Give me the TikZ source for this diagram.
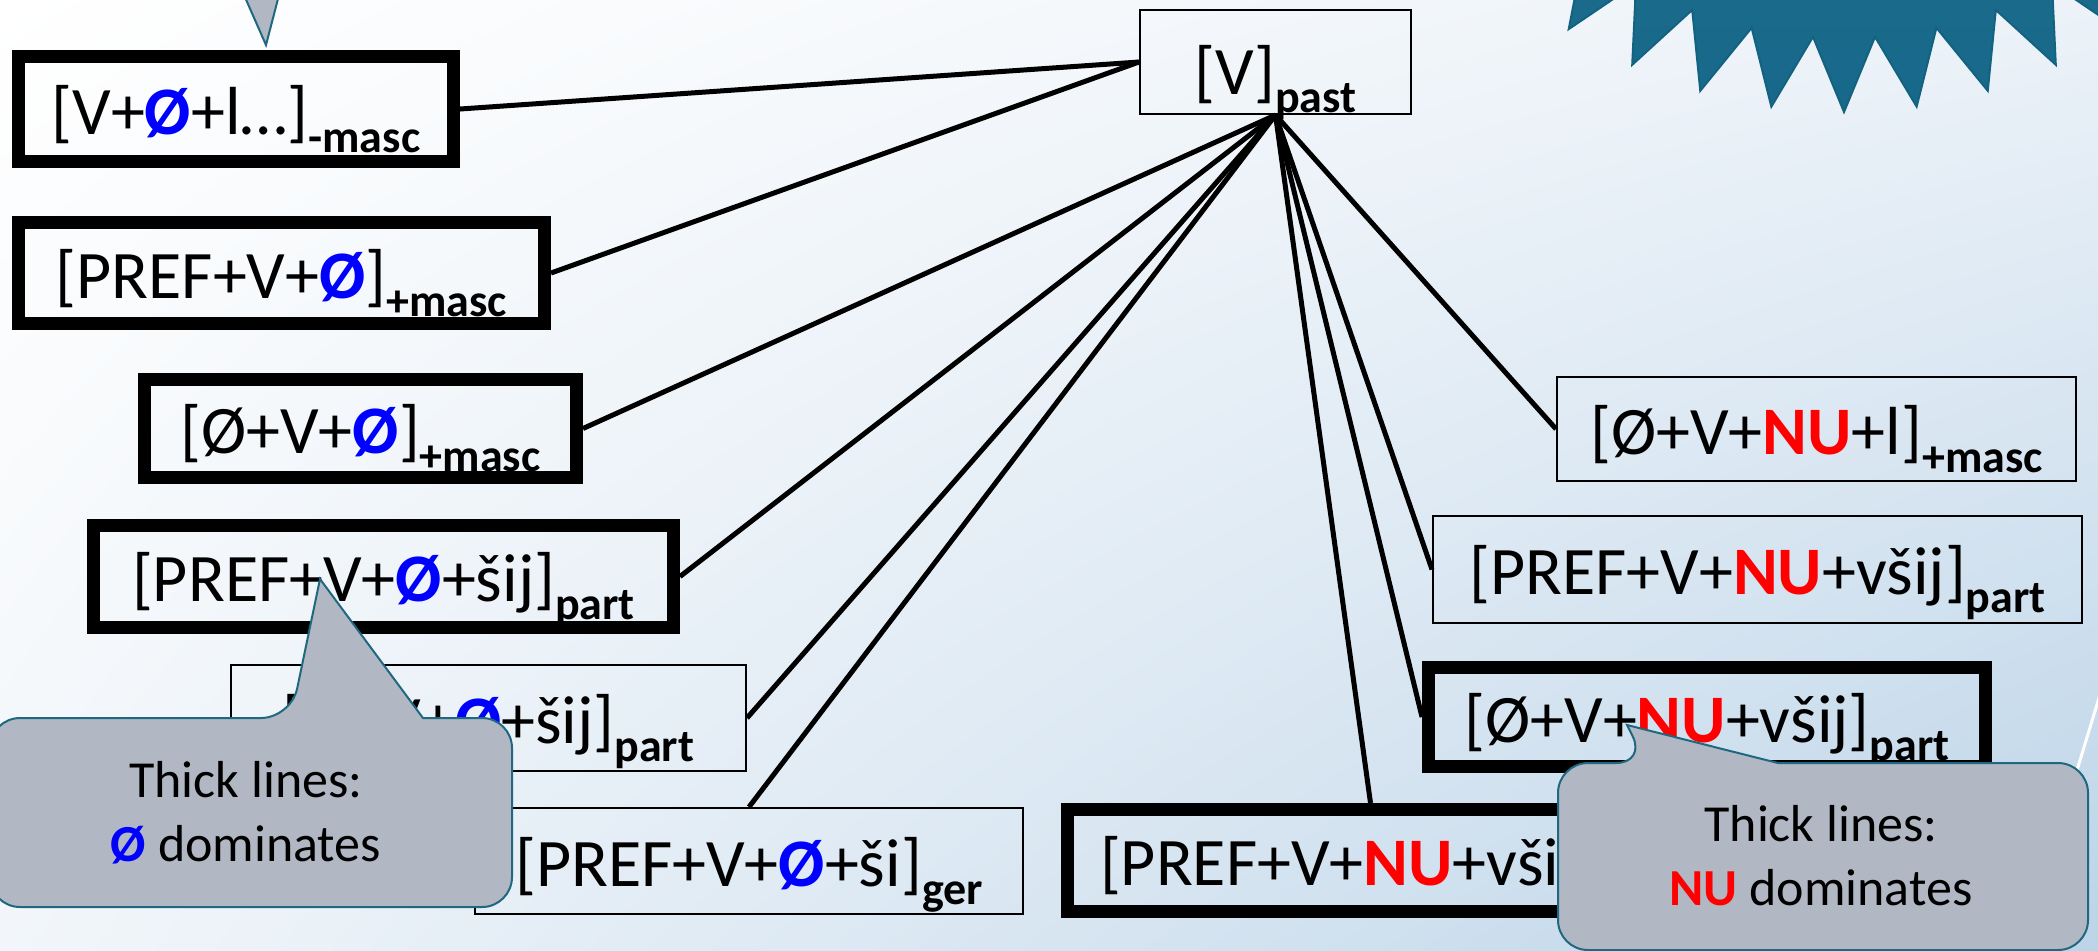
\documentclass[tikz,border=0pt]{standalone}
\usepackage{fontspec}
\setmainfont{Carlito}
\usetikzlibrary{shadings}

\definecolor{zblue}{RGB}{0,0,255}
\definecolor{nured}{RGB}{255,0,0}
\definecolor{calloutfill}{RGB}{177,184,196}
\definecolor{calloutedge}{RGB}{31,104,128}
\definecolor{burstlight}{RGB}{60,120,154}
\definecolor{burstdark}{RGB}{22,104,138}
\definecolor{burstedge}{RGB}{18,98,128}
\definecolor{bgtr}{RGB}{236,242,248}
\definecolor{bgbl}{RGB}{242,246,250}
\definecolor{bgbr}{RGB}{188,212,232}

% blue zero morpheme, red NU suffix, bold lowered subscript
\newcommand{\zb}{\textcolor{zblue}{\bfseries Ø}}
\newcommand{\nuR}{\textcolor{nured}{\bfseries NU}}
\newcommand{\sbs}[1]{\raisebox{-9pt}{\fontsize{23}{23}\selectfont\bfseries #1}}

\begin{document}
\begin{tikzpicture}[x=0.5pt, y=-0.5pt,
  box/.style={rectangle, inner sep=0pt, font=\fontsize{34}{40}\selectfont,
              text height=31pt, text depth=6pt},
  heavybox/.style={box, draw, line width=6.5pt},
  lightbox/.style={box, draw, line width=1.2pt},
  link/.style={line width=2.5pt},
  calloutshape/.style={fill=calloutfill, draw=calloutedge, line width=1pt},
  callouttext/.style={align=center, font=\fontsize{26}{32}\selectfont, inner sep=0pt}]

\useasboundingbox (0,0) rectangle (2098,950);
\clip (0,0) rectangle (2098,950);

% background
\shade[upper left=white, upper right=bgtr, lower left=bgbl, lower right=bgbr]
  (0,0) rectangle (2098,950);

% starburst at the top right
\path[draw=burstedge, line width=1pt,
      path picture={\shade[top color=burstlight, bottom color=burstdark]
                    (1450,-10) rectangle (2110,120);}]
  plot[variable=\k, samples at={0,...,85}]
  ({1844+ifthenelse(mod(\k,2)==0,499,425)*cos(90+\k*4.18605)},
   {-387+ifthenelse(mod(\k,2)==0,499,425)*sin(90+\k*4.18605)}) -- cycle;

% pointer of a callout above
\path[fill=calloutfill] (244,-5) -- (266,45) -- (279,-5) -- cycle;
\draw[calloutedge, line width=1pt] (244,-5) -- (266,45) -- (279,-5);

% forms
\node[lightbox, minimum width=135.3pt, minimum height=51.8pt,
      text height=32pt, text depth=0pt] (past) at (1275.5,62) {[V]\sbs{past}};

\node[heavybox, minimum width=217.5pt, minimum height=52.5pt] (masc1) at (236,109)
  {[V+\zb+l…]\sbs{-masc}};
\node[heavybox, minimum width=263pt, minimum height=50.5pt] (masc2) at (281.5,273)
  {[PREF+V+\zb]\sbs{+masc}};
\node[heavybox, minimum width=216pt, minimum height=49pt] (masc3) at (360.5,428.5)
  {[Ø+V+\zb]\sbs{+masc}};
\node[heavybox, minimum width=290pt, minimum height=51pt] (part1) at (383.5,576.5)
  {[PREF+V+\zb+šij]\sbs{part}};
\node[lightbox, minimum width=257.3pt, minimum height=52.8pt] (part2) at (488.5,718)
  {[Ø+V+\zb+šij]\sbs{part}};
\node[lightbox, minimum width=273.8pt, minimum height=52.8pt] (ger1) at (749,861)
  {[PREF+V+\zb+ši]\sbs{ger}};
\node[heavybox, minimum width=303pt, minimum height=51pt] (ger2) at (1370.5,860.5)
  {[PREF+V+\nuR+vši]\sbs{ger}};
\node[heavybox, minimum width=278.5pt, minimum height=49.5pt] (part3) at (1707,717)
  {[Ø+V+\nuR+všij]\sbs{part}};
\node[lightbox, minimum width=324.3pt, minimum height=53.3pt] (part4) at (1757.5,569.5)
  {[PREF+V+\nuR+všij]\sbs{part}};
\node[lightbox, minimum width=259.3pt, minimum height=51.8pt] (masc4) at (1816.5,429)
  {[Ø+V+\nuR+l]\sbs{+masc}};

% connectors
\draw[link] (past.west) -- (masc1.east);
\draw[link] (past.west) -- (masc2.east);
\foreach \t/\a in {masc3/east, part1/east, part2/east, ger1/north,
                   ger2/north, part3/west, part4/west, masc4/west}
  \draw[link] (past.south) -- (\t.\a);

% thin white stroke at the right edge
\draw[white, line width=1.5pt] (2102,688) -- (2074,780);

% callouts
\path[calloutshape] (-10,810) [rounded corners=15pt] -- (-10,718) -- (291,718)
  [sharp corners] -- (320,579) -- (423,718)
  [rounded corners=15pt] -- (512,718) -- (512,907) -- (-10,907) -- cycle;
\node[callouttext] (leftnote) at (246,813)
  {Thick lines:\\\zb{} dominates};

\path[calloutshape] (1558,850) [rounded corners=15pt] -- (1558,763) -- (1646,763)
  [sharp corners] -- (1627,725) -- (1778,763)
  [rounded corners=15pt] -- (2088,763) -- (2088,950) -- (1558,950) -- cycle;
\node[callouttext] (rightnote) at (1821,856)
  {Thick lines:\\\nuR{} dominates};

\end{tikzpicture}
\end{document}
